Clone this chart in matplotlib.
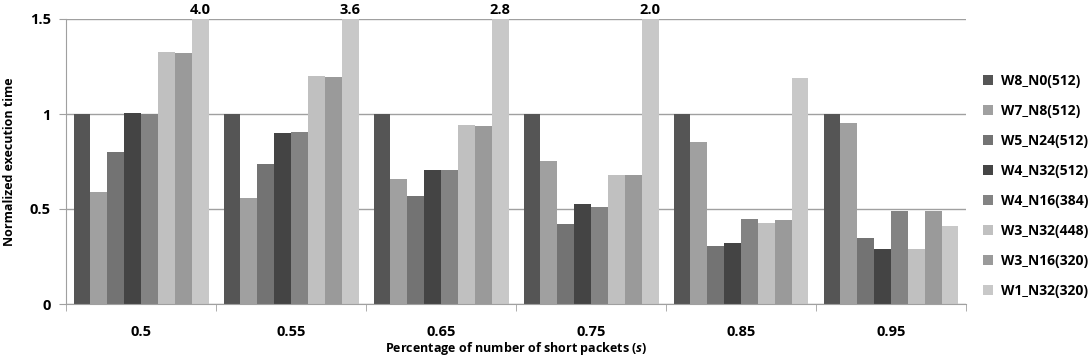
import numpy as np
import matplotlib.pyplot as plt

plt.rcParams['font.family'] = ['Open Sans', 'DejaVu Sans']
plt.rcParams['font.weight'] = 'bold'
plt.rcParams['mathtext.fontset'] = 'custom'
plt.rcParams['mathtext.it'] = 'Open Sans:italic:bold'

groups = ['0.5', '0.55', '0.65', '0.75', '0.85', '0.95']
series = ['W8_N0(512)', 'W7_N8(512)', 'W5_N24(512)', 'W4_N32(512)',
          'W4_N16(384)', 'W3_N32(448)', 'W3_N16(320)', 'W1_N32(320)']
w8_n0 = [1.0, 1.0, 1.0, 1.0, 1.0, 1.0]
w7_n8 = [0.59, 0.556, 0.656, 0.751, 0.853, 0.953]
w5_n24 = [0.80, 0.737, 0.568, 0.421, 0.304, 0.347]
w4_n32 = [1.005, 0.898, 0.705, 0.526, 0.319, 0.289]
w4_n16 = [1.0, 0.904, 0.705, 0.51, 0.447, 0.489]
w3_n32 = [1.325, 1.198, 0.94, 0.679, 0.426, 0.289]
w3_n16 = [1.32, 1.193, 0.935, 0.679, 0.442, 0.489]
w1_n32 = [4.0, 3.6, 2.8, 2.0, 1.188, 0.41]
values = [w8_n0, w7_n8, w5_n24, w4_n32, w4_n16, w3_n32, w3_n16, w1_n32]
colors = ['#555555', '#a0a0a0', '#737373', '#444444', '#838383', '#c0c0c0', '#9a9a9a', '#c8c8c8']

fig = plt.figure(figsize=(10.91, 3.64), dpi=100)
ax = fig.add_axes([66/1091, 60/364, 900/1091, 285/364])

x = np.arange(len(groups))
bw = 0.9/8
for i, (name, vals) in enumerate(zip(series, values)):
    pos = x - 0.45 + bw*(i+0.5)
    ax.bar(pos, vals, bw, color=colors[i], label=name, zorder=2)
    if i == 7:
        for p, v in zip(pos, vals):
            if v > 1.5:
                ax.text(p, 1.51, '%.1f' % v, ha='center', va='bottom',
                        fontsize=10.5, fontweight='bold')

ax.set_ylim(0, 1.5)
ax.set_xlim(-0.5, len(groups)-0.5)
ax.set_yticks([0, 0.5, 1, 1.5])
ax.set_yticklabels(['0', '0.5', '1', '1.5'])
ax.yaxis.grid(True, color='#a0a0a0', lw=1, zorder=0)
ax.set_xticks(x)
ax.set_xticklabels(groups)
ax.set_xticks(np.arange(-0.5, len(groups)), minor=True)
ax.tick_params(axis='x', which='major', length=0, pad=15, labelsize=10.5)
ax.tick_params(axis='x', which='minor', length=5, color='#a0a0a0')
ax.tick_params(axis='y', length=5, color='#a0a0a0', labelsize=10.5, pad=6)
for s in ['top', 'right']:
    ax.spines[s].set_visible(False)
for s in ['left', 'bottom']:
    ax.spines[s].set_color('#a0a0a0')

ax.set_ylabel('Normalized execution time', fontsize=9, fontweight='bold', labelpad=10)
ax.set_xlabel('Percentage of number of short packets ($\\it{s}$)', fontsize=9,
              fontweight='bold', labelpad=1)

ax.legend(loc='center left', bbox_to_anchor=(1.005, 0.415), frameon=False,
          handlelength=0.7, handleheight=0.7, labelspacing=1.15, handletextpad=0.6,
          prop={'weight': 'bold', 'size': 10})

fig.savefig('out.png', dpi=100)
